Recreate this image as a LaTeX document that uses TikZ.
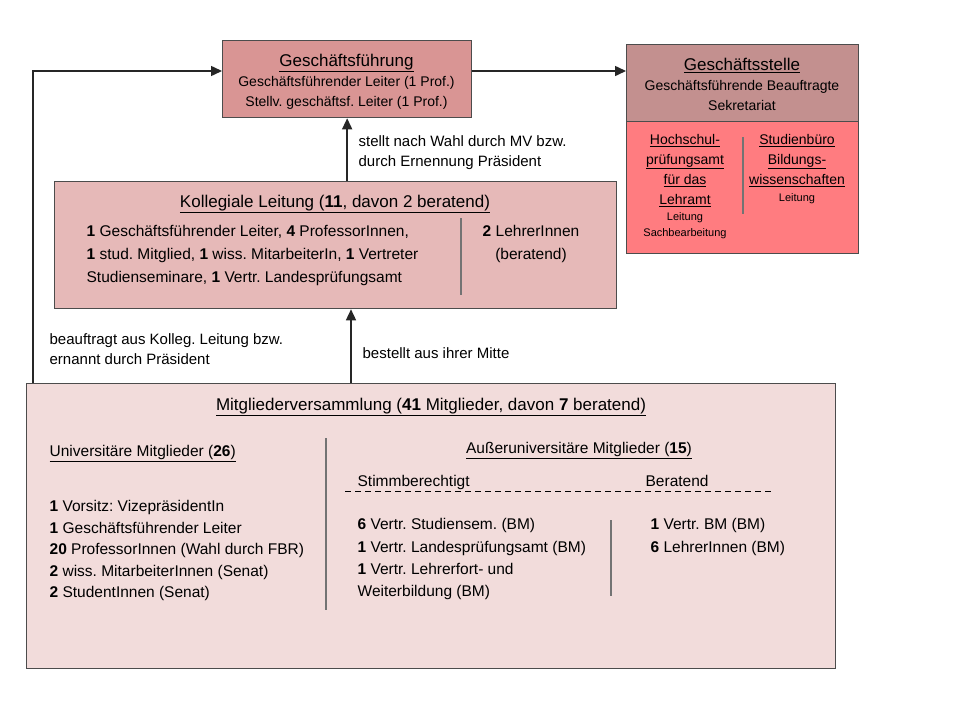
\documentclass[tikz,border=0pt]{standalone}
\usepackage{fontspec}
\setmainfont{Liberation Sans}
\usetikzlibrary{shapes,arrows,arrows.meta,positioning}
\usepackage{xcolor}
\definecolor{gfcol}{HTML}{D99594}
\definecolor{gscol}{HTML}{C3908F}
\definecolor{amtcol}{HTML}{FF7C80}
\definecolor{klcol}{HTML}{E6B9B8}
\definecolor{mvcol}{HTML}{F2DCDB}
\newcommand{\fttl}{\fontsize{17}{20}\selectfont}
\newcommand{\fmid}{\fontsize{14}{20}\selectfont}
\newcommand{\ftiny}{\fontsize{11}{16}\selectfont}
\frenchspacing

\begin{document}
\begin{tikzpicture}[x=1pt, y=-1pt, >={Triangle[length=11pt,width=10pt]}, line width=1.3pt]
        \tikzstyle{box}=[draw=black!70, anchor=north west, inner sep=0pt]
        \tikzstyle{txt}=[inner sep=0pt, text=black]
        \tikzstyle{divider}=[draw=black!55, line width=1.2pt]
        \tikzstyle{conn}=[->, draw=black!85, line width=1.5pt]
        % page
        \fill[white] (0,0) rectangle (960,720);
        \useasboundingbox (0,0) rectangle (960,720);
        % boxes
        \node[box, fill=gfcol,  minimum width=249pt, minimum height=77pt]  (GF)  at (222,40)  {};
        \node[box, fill=gscol,  minimum width=232pt, minimum height=77pt]  (GS)  at (626,44)  {};
        \node[box, fill=amtcol, minimum width=232pt, minimum height=132pt] (AMT) at (626,121) {};
        \node[box, fill=klcol,  minimum width=562pt, minimum height=127pt] (KL)  at (54,181)  {};
        \node[box, fill=mvcol,  minimum width=809pt, minimum height=285pt] (MV)  at (26,383)  {};
        % Geschaeftsfuehrung
        \node[txt, anchor=north, font=\fttl] (GFt) at (346.5,53.5) {\underline{Geschäftsführung}};
        \node[txt, anchor=north, font=\fmid, align=center] (GFb) at (346.5,75.5)
            {Geschäftsführender Leiter (1 Prof.)\\Stellv. geschäftsf. Leiter (1 Prof.)};
        % Geschaeftsstelle
        \node[txt, anchor=north, font=\fttl] (GSt) at (742,57.5) {\underline{Geschäftsstelle}};
        \node[txt, anchor=north, font=\fmid, align=center] (GSb) at (742,79.5)
            {Geschäftsführende Beauftragte\\Sekretariat};
        \node[txt, anchor=north, font=\fmid, align=center] (HPA) at (685,133.5)
            {\underline{Hochschul-}\\\underline{prüfungsamt}\\\underline{für das}\\\underline{Lehramt}};
        \node[txt, anchor=north, font=\ftiny, align=center] (HPAb) at (685,211.5)
            {Leitung\\Sachbearbeitung};
        \node[txt, anchor=north, font=\fmid, align=center] (SB) at (797,133.5)
            {\underline{Studienbüro}\\\underline{Bildungs-}\\\underline{wissenschaften}};
        \node[txt, anchor=north, font=\ftiny] (SBb) at (797,192.5) {Leitung};
        \draw[divider] (743,137) -- (743,214);
        % Kollegiale Leitung
        \node[txt, anchor=north, font=\fttl] (KLt) at (335,194.5)
            {\underline{Kollegiale Leitung (\textbf{11}, davon 2 beratend)}};
        \node[txt, anchor=north west, font=\fontsize{15.5}{23}\selectfont, align=left] (KLl) at (86,224.5)
            {\textbf{1} Geschäftsführender Leiter, \textbf{4} ProfessorInnen,\\
             \textbf{1} stud. Mitglied, \textbf{1} wiss. MitarbeiterIn, \textbf{1} Vertreter\\
             Studienseminare, \textbf{1} Vertr. Landesprüfungsamt};
        \node[txt, anchor=north, font=\fontsize{15.5}{23}\selectfont, align=center] (KLr) at (531,224.5)
            {\textbf{2} LehrerInnen\\(beratend)};
        \draw[divider] (461,218) -- (461,295);
        % Mitgliederversammlung
        \node[txt, anchor=north, font=\fttl] (MVt) at (431,397.5)
            {\underline{Mitgliederversammlung (\textbf{41} Mitglieder, davon \textbf{7} beratend)}};
        \node[txt, anchor=north west, font=\fontsize{15.5}{20}\selectfont] (UNI) at (49,445)
            {\underline{Universitäre Mitglieder (\textbf{26})}};
        \node[txt, anchor=north west, font=\fontsize{15.5}{21.5}\selectfont, align=left] (UNIl) at (49,500)
            {\textbf{1} Vorsitz: VizepräsidentIn\\
             \textbf{1} Geschäftsführender Leiter\\
             \textbf{20} ProfessorInnen (Wahl durch FBR)\\
             \textbf{2} wiss. MitarbeiterInnen (Senat)\\
             \textbf{2} StudentInnen (Senat)};
        \draw[divider] (326,438) -- (326,610);
        \node[txt, anchor=north, font=\fontsize{15.5}{20}\selectfont] (AUS) at (579,442)
            {\underline{Außeruniversitäre Mitglieder (\textbf{15})}};
        \node[txt, anchor=north west, font=\fontsize{15.5}{20}\selectfont] (STB) at (357,475) {Stimmberechtigt};
        \node[txt, anchor=north west, font=\fontsize{15.5}{20}\selectfont] (BER) at (645,475) {Beratend};
        \draw[black, line width=1pt, dash pattern=on 6pt off 4pt] (345,491) -- (772,491);
        \node[txt, anchor=north west, font=\fontsize{15.5}{22.3}\selectfont, align=left] (STBl) at (357,518)
            {\textbf{6} Vertr. Studiensem. (BM)\\
             \textbf{1} Vertr. Landesprüfungsamt (BM)\\
             \textbf{1} Vertr. Lehrerfort- und\\
             Weiterbildung (BM)};
        \node[txt, anchor=north west, font=\fontsize{15.5}{23}\selectfont, align=left] (BERl) at (650,518)
            {\textbf{1} Vertr. BM (BM)\\\textbf{6} LehrerInnen (BM)};
        \draw[divider] (611,520) -- (611,596);
        % connectors
        \coordinate (lvl) at (0,71);
        \coordinate (mid) at (351,0);
        \draw[conn] ([xshift=7pt]MV.north west) |- (GF.west |- lvl);
        \draw[conn] (GF.east |- lvl) -- (GS.west |- lvl);
        \draw[conn] (KL.north -| GF.south) -- (GF.south);
        \draw[conn] (MV.north -| mid) -- (KL.south -| mid);
        % labels
        \node[txt, anchor=north west, font=\fontsize{15}{19.5}\selectfont, align=left] (Lstellt) at (358,135)
            {stellt nach Wahl durch MV bzw.\\durch Ernennung Präsident};
        \node[txt, anchor=north west, font=\fontsize{15}{20}\selectfont, align=left] (Lbeauf) at (49,333)
            {beauftragt aus Kolleg. Leitung bzw.\\ernannt durch Präsident};
        \node[txt, anchor=north west, font=\fontsize{15}{20}\selectfont] (Lbest) at (362,347) {bestellt aus ihrer Mitte};
\end{tikzpicture}
\end{document}
